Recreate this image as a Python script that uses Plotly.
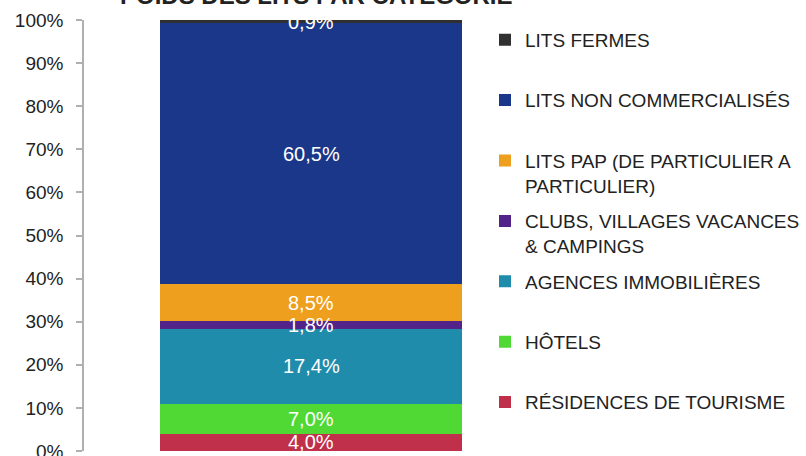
import plotly.graph_objects as go

# ---- data (bottom to top of the stack) ----
categories = [
    "RÉSIDENCES DE TOURISME",
    "HÔTELS",
    "AGENCES IMMOBILIÈRES",
    "CLUBS, VILLAGES VACANCES<br>& CAMPINGS",
    "LITS PAP (DE PARTICULIER A<br>PARTICULIER)",
    "LITS NON COMMERCIALISÉS",
    "LITS FERMES",
]
values = [4.0, 7.0, 17.4, 1.8, 8.5, 60.5, 0.9]
bar_category = ["Poids"]
y_ticks = [0, 10, 20, 30, 40, 50, 60, 70, 80, 90, 100]
y_tick_labels = [f"{t}%" for t in y_ticks]
title_text = "POIDS DES LITS PAR CATÉGORIE"

colors = ["#c0304a", "#50d934", "#1f8cab", "#52248a", "#ee9f1e", "#1b378a", "#303030"]

FONT = "Liberation Sans, Arial, sans-serif"

W, H = 806, 456
L, R, T, B = 84, 268, 20, 5
PW, PH = W - L - R, H - T - B

fig = go.Figure()
cum = 0.0
n = len(categories)
for i, (name, val, col) in enumerate(zip(categories, values, colors)):
    legend_name = name if "<br>" in name else name + "<br>\u00a0"
    fig.add_trace(go.Bar(
        x=bar_category,
        y=[val],
        name=legend_name,
        legendgroup=name,
        legendrank=n - i,
        marker=dict(color=col, line=dict(width=0)),
        hoverinfo="skip",
    ))
    # value label centred on its segment (placed through the y axis scale)
    fig.add_annotation(
        x=bar_category[0], y=cum + val / 2, xref="x", yref="y",
        text=f"{val:.1f}%".replace(".", ","),
        showarrow=False, xanchor="center", yanchor="middle",
        font=dict(color="white", size=20, family=FONT),
    )
    cum += val

fig.add_annotation(
    text=f"<b>{title_text}</b>",
    x=(316 - L) / PW, xref="paper", y=1 + (T - 11) / PH, yref="paper",
    xanchor="center", yanchor="bottom", showarrow=False,
    font=dict(size=24, family=FONT, color="#222"),
)

fig.update_layout(
    width=W, height=H,
    barmode="stack",
    bargap=0.335,
    paper_bgcolor="white",
    plot_bgcolor="white",
    margin=dict(l=L, r=R, t=T, b=B, autoexpand=False),
    showlegend=True,
    legend=dict(
        traceorder="grouped",
        x=(485 - L) / PW, xref="paper", xanchor="left",
        y=0.012, yref="paper", yanchor="bottom",
        font=dict(size=19, family=FONT, color="#222"),
        valign="top",
        tracegroupgap=8,
        bgcolor="rgba(0,0,0,0)",
    ),
    xaxis=dict(visible=False),
    yaxis=dict(
        range=[0, 100],
        tickmode="array",
        tickvals=y_ticks,
        ticktext=y_tick_labels,
        showline=True, linecolor="#b0b0b0", linewidth=1.5,
        ticks="outside", ticklen=6, tickcolor="#b0b0b0", tickwidth=1.5,
        showgrid=False, zeroline=False,
        tickfont=dict(size=19, family=FONT, color="#222"),
        ticklabelstandoff=9,
        ticklabeloverflow="allow",
    ),
)

# remove the browser's default 8px page margin so the figure fills the window
fig.write_html(
    "out.html",
    config={"displayModeBar": False},
    post_script="document.body.style.margin='0';",
)
